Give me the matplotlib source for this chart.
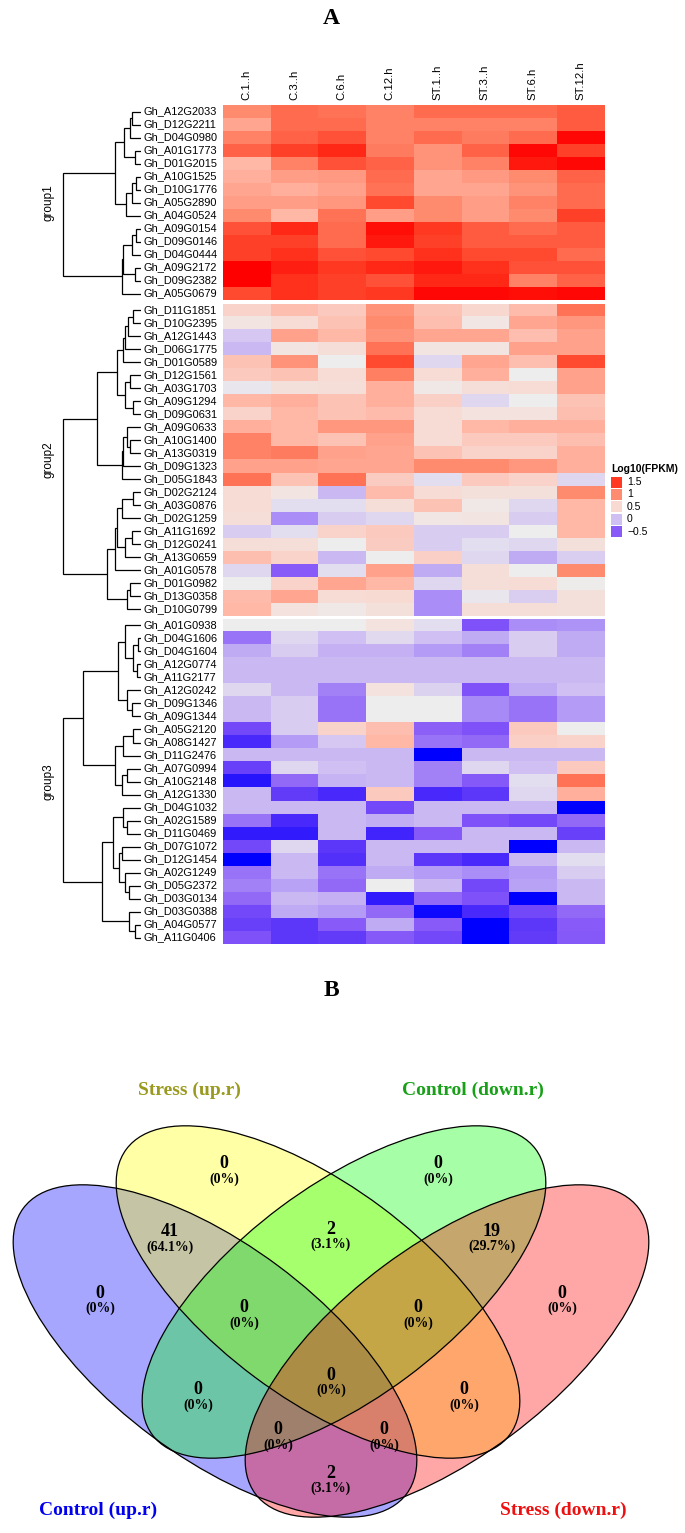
import numpy as np
import matplotlib
matplotlib.use("Agg")
import matplotlib.pyplot as plt
from matplotlib.colors import LinearSegmentedColormap, Normalize
from matplotlib.patches import Ellipse, Rectangle
from matplotlib.transforms import blended_transform_factory

# ---------------- data ----------------
columns = ["C.1..h", "C.3..h", "C.6.h", "C.12.h", "ST.1..h", "ST.3..h", "ST.6.h", "ST.12.h"]

group1_genes = ["Gh_A12G2033", "Gh_D12G2211", "Gh_D04G0980", "Gh_A01G1773", "Gh_D01G2015",
                "Gh_A10G1525", "Gh_D10G1776", "Gh_A05G2890", "Gh_A04G0524", "Gh_A09G0154",
                "Gh_D09G0146", "Gh_D04G0444", "Gh_A09G2172", "Gh_D09G2382", "Gh_A05G0679"]
group1_values = [
    [1.00, 1.20, 1.15, 1.05, 1.20, 1.20, 1.20, 1.30],
    [0.85, 1.20, 1.20, 1.05, 1.05, 1.05, 1.05, 1.30],
    [1.05, 1.25, 1.35, 1.05, 1.20, 1.10, 1.20, 1.80],
    [1.25, 1.45, 1.60, 1.10, 0.95, 1.25, 1.80, 1.45],
    [0.75, 1.05, 1.35, 1.25, 0.95, 1.05, 1.70, 1.80],
    [0.80, 0.90, 0.92, 1.20, 0.85, 0.92, 1.00, 1.25],
    [0.85, 0.80, 0.88, 1.15, 0.85, 0.85, 0.95, 1.20],
    [0.90, 0.90, 0.93, 1.40, 1.00, 0.90, 1.05, 1.20],
    [1.00, 0.75, 1.15, 0.90, 1.00, 0.90, 1.00, 1.45],
    [1.35, 1.60, 1.20, 1.75, 1.50, 1.30, 1.20, 1.30],
    [1.45, 1.45, 1.20, 1.70, 1.45, 1.30, 1.30, 1.30],
    [1.45, 1.55, 1.35, 1.40, 1.55, 1.40, 1.40, 1.20],
    [1.85, 1.65, 1.50, 1.60, 1.70, 1.55, 1.35, 1.35],
    [1.85, 1.55, 1.45, 1.35, 1.60, 1.60, 1.05, 1.25],
    [1.40, 1.55, 1.45, 1.50, 1.80, 1.80, 1.75, 1.80],
]

group2_genes = ["Gh_D11G1851", "Gh_D10G2395", "Gh_A12G1443", "Gh_D06G1775", "Gh_D01G0589",
                "Gh_D12G1561", "Gh_A03G1703", "Gh_A09G1294", "Gh_D09G0631", "Gh_A09G0633",
                "Gh_A10G1400", "Gh_A13G0319", "Gh_D09G1323", "Gh_D05G1843", "Gh_D02G2124",
                "Gh_A03G0876", "Gh_D02G1259", "Gh_A11G1692", "Gh_D12G0241", "Gh_A13G0659",
                "Gh_A01G0578", "Gh_D01G0982", "Gh_D13G0358", "Gh_D10G0799"]
group2_values = [
    [0.55, 0.70, 0.62, 0.95, 0.68, 0.52, 0.72, 1.15],
    [0.40, 0.48, 0.68, 1.00, 0.70, 0.38, 0.85, 0.93],
    [0.05, 0.88, 0.75, 0.95, 0.85, 0.85, 0.70, 0.88],
    [-0.05, 0.40, 0.45, 1.15, 0.40, 0.40, 0.88, 0.88],
    [0.68, 0.95, 0.30, 1.40, 0.15, 0.85, 0.70, 1.40],
    [0.62, 0.68, 0.47, 1.08, 0.48, 0.80, 0.30, 0.88],
    [0.25, 0.43, 0.45, 0.80, 0.35, 0.45, 0.48, 0.88],
    [0.75, 0.80, 0.68, 0.80, 0.58, 0.15, 0.30, 0.68],
    [0.55, 0.75, 0.68, 0.72, 0.47, 0.42, 0.42, 0.70],
    [0.80, 0.75, 0.93, 0.93, 0.47, 0.75, 0.80, 0.80],
    [1.05, 0.75, 0.68, 0.88, 0.48, 0.62, 0.62, 0.70],
    [1.05, 1.10, 0.88, 0.85, 0.68, 0.55, 0.55, 0.80],
    [0.88, 0.88, 0.85, 0.85, 1.00, 1.00, 0.93, 0.80],
    [1.15, 0.68, 1.15, 0.60, 0.20, 0.62, 0.55, 0.15],
    [0.47, 0.40, -0.05, 0.72, 0.48, 0.43, 0.43, 1.00],
    [0.47, 0.20, 0.20, 0.45, 0.68, 0.35, 0.15, 0.75],
    [0.45, -0.30, 0.08, 0.15, 0.37, 0.40, 0.08, 0.75],
    [0.08, 0.20, 0.55, 0.62, 0.08, 0.08, 0.30, 0.75],
    [0.45, 0.45, 0.30, 0.60, 0.08, 0.20, 0.15, 0.43],
    [0.70, 0.55, -0.05, 0.30, 0.58, 0.15, -0.15, 0.10],
    [0.15, -0.50, 0.20, 0.88, -0.15, 0.45, 0.30, 1.00],
    [0.30, 0.55, 0.85, 0.75, 0.15, 0.45, 0.47, 0.32],
    [0.72, 0.85, 0.48, 0.50, -0.30, 0.25, 0.10, 0.43],
    [0.75, 0.42, 0.35, 0.43, -0.30, 0.45, 0.45, 0.43],
]

group3_genes = ["Gh_A01G0938", "Gh_D04G1606", "Gh_D04G1604", "Gh_A12G0774", "Gh_A11G2177",
                "Gh_A12G0242", "Gh_D09G1346", "Gh_A09G1344", "Gh_A05G2120", "Gh_A08G1427",
                "Gh_D11G2476", "Gh_A07G0994", "Gh_A10G2148", "Gh_A12G1330", "Gh_D04G1032",
                "Gh_A02G1589", "Gh_D11G0469", "Gh_D07G1072", "Gh_D12G1454", "Gh_A02G1249",
                "Gh_D05G2372", "Gh_D03G0134", "Gh_D03G0388", "Gh_A04G0577", "Gh_A11G0406"]
group3_values = [
    [0.30, 0.30, 0.30, 0.42, 0.20, -0.55, -0.30, -0.28],
    [-0.40, 0.15, 0.00, 0.18, 0.00, -0.15, 0.08, -0.15],
    [-0.15, 0.08, -0.10, -0.10, -0.25, -0.35, 0.08, -0.15],
    [-0.05, -0.05, -0.05, -0.05, -0.05, -0.05, -0.05, -0.05],
    [-0.05, -0.05, -0.05, -0.05, -0.05, -0.05, -0.05, -0.05],
    [0.15, -0.05, -0.35, 0.42, 0.12, -0.55, -0.15, 0.00],
    [-0.05, 0.08, -0.40, 0.30, 0.30, -0.32, -0.40, -0.25],
    [-0.05, 0.08, -0.40, 0.30, 0.30, -0.32, -0.40, -0.25],
    [-0.60, 0.08, 0.55, 0.70, -0.48, -0.55, 0.62, 0.30],
    [-0.78, -0.25, 0.05, 0.75, -0.40, -0.45, 0.58, 0.55],
    [-0.05, -0.05, -0.05, -0.05, -1.00, -0.05, -0.05, -0.05],
    [-0.65, 0.15, 0.00, -0.05, -0.35, 0.15, 0.00, 0.62],
    [-0.88, -0.45, -0.08, -0.05, -0.35, -0.52, 0.20, 1.15],
    [-0.05, -0.68, -0.78, 0.62, -0.78, -0.70, 0.15, 0.80],
    [-0.05, -0.05, -0.05, -0.60, -0.05, -0.05, -0.05, -1.00],
    [-0.40, -0.78, -0.05, -0.12, -0.05, -0.55, -0.60, -0.45],
    [-0.85, -0.85, -0.05, -0.80, -0.52, -0.05, -0.05, -0.65],
    [-0.60, 0.15, -0.70, -0.05, -0.05, -0.05, -1.00, -0.05],
    [-1.00, -0.05, -0.75, -0.05, -0.70, -0.78, -0.05, 0.20],
    [-0.40, -0.05, -0.40, -0.15, -0.25, -0.30, -0.25, 0.08],
    [-0.35, -0.20, -0.45, 0.30, -0.05, -0.60, -0.20, -0.05],
    [-0.45, -0.05, -0.10, -0.85, -0.45, -0.55, -1.00, -0.05],
    [-0.60, -0.15, -0.25, -0.45, -0.95, -0.78, -0.60, -0.45],
    [-0.65, -0.70, -0.50, -0.15, -0.50, -1.00, -0.70, -0.50],
    [-0.55, -0.70, -0.68, -0.52, -0.60, -1.00, -0.68, -0.52],
]

group_names = ["group1", "group2", "group3"]

# dendrogram merge trees: (left, right, merge height); leaves = row index within group
g1_top = ((((0, 1, 9), 2, 11), (3, 4, 6), 17), (((5, 6, 5), 7, 9), 8, 15), 26)
g1_bot = ((((9, 10, 5), 11, 9), (12, 13, 6), 18), 14, 19)
group1_tree = (g1_top, g1_bot, 78)

g2_a = ((((0, 1, 8), 2, 13), 3, 16), 4, 18)
g2_b = ((5, 6, 11), (7, 8, 8), 16)
g2_c = ((((10, 11, 11), 9, 14), 12, 18), 13, 19)
g2_d = ((((14, 15, 8), 16, 19), ((17, 18, 9), 19, 16), 24), 20, 26)
g2_e = ((21, 22, 11), 23, 14)
group2_tree = (((g2_a, g2_b, 24), g2_c, 44), (g2_d, g2_e, 34), 78)

g3_a = ((0, ((1, 2, 3), (3, 4, 4), 8), 16), ((6, 7, 9), 5, 14), 23)
g3_b = (((8, 9, 8), 10, 18), ((11, 12, 14), 13, 19), 26)
g3_c = (((15, 16, 14), 14, 18), ((17, 18, 19), (19, (20, 21, 12), 16), 22), 28)
g3_d = (22, (23, 24, 6), 12)
group3_tree = ((g3_a, g3_b, 58), (g3_c, g3_d, 39), 78)
group_trees = [group1_tree, group2_tree, group3_tree]

legend_values = [1.5, 1.0, 0.5, 0.0, -0.5]
legend_labels = ["1.5", "1", "0.5", "0", "\u22120.5"]

# Venn data
venn_sets = ["Control (up.r)", "Stress (up.r)", "Control (down.r)", "Stress (down.r)"]
venn_regions = ["A", "B", "C", "D", "AB", "BC", "CD", "ABC", "BCD", "ABCD", "AC", "BD", "ACD", "ABD", "AD"]
venn_counts = [0, 0, 0, 0, 41, 2, 19, 0, 0, 0, 0, 0, 0, 0, 2]

# ---------------- styling / layout ----------------
W, H = 685, 1533
fig = plt.figure(figsize=(W / 100, H / 100), dpi=100)

SANS = ["Liberation Sans", "DejaVu Sans"]
SERIF = ["Liberation Serif", "DejaVu Serif"]


def ax_px(x0, y0, x1, y1):
    return fig.add_axes([x0 / W, 1 - y1 / H, (x1 - x0) / W, (y1 - y0) / H])


anchors = [(-1.0, "#0000FF"), (-0.75, "#5530FA"), (-0.5, "#8A5CF8"), (-0.25, "#B49CF6"),
           (0.0, "#D0C0F2"), (0.3, "#EEEEEE"), (0.5, "#F8DAD2"), (0.75, "#FFB8A8"),
           (1.0, "#FF8C70"), (1.25, "#FF6448"), (1.5, "#FF3A22"), (1.85, "#FF0000")]
vmin, vmax = anchors[0][0], anchors[-1][0]
cmap = LinearSegmentedColormap.from_list(
    "fpkm", [((v - vmin) / (vmax - vmin), c) for v, c in anchors])
norm = Normalize(vmin=vmin, vmax=vmax)

HM_X0, HM_X1 = 222.7, 604.0
ROW_H = 13.0
group_tops = [105.0, 303.5, 619.0]
LEAF_X = 141.0
DEND_X0 = 58.0

all_genes = [group1_genes, group2_genes, group3_genes]
all_vals = [group1_values, group2_values, group3_values]


def draw_tree(ax, node, yc):
    if isinstance(node, int):
        return yc[node], 0.0
    l, r, h = node
    yl, hl = draw_tree(ax, l, yc)
    yr, hr = draw_tree(ax, r, yc)
    ax.plot([hl, h, h, hr], [yl, yl, yr, yr], color="black", lw=0.9,
            solid_joinstyle="miter", solid_capstyle="butt")
    return (yl + yr) / 2, h


for gi in range(3):
    genes = all_genes[gi]
    vals = np.array(all_vals[gi])
    n = len(genes)
    top = group_tops[gi]
    bot = top + n * ROW_H
    ax = ax_px(HM_X0, top, HM_X1, bot)
    ax.imshow(vals, cmap=cmap, norm=norm, aspect="auto", interpolation="nearest",
              extent=(0, len(columns), n, 0))
    ax.set_xlim(0, len(columns))
    ax.set_ylim(n, 0)
    ax.axis("off")
    tr = blended_transform_factory(fig.transFigure, ax.transData)
    for i, g in enumerate(genes):
        ax.text(143.3 / W, i + 0.5, g, transform=tr, ha="left", va="center",
                fontsize=7.9, family=SANS)
    ax.text(48 / W, n / 2, group_names[gi], transform=tr, rotation=90,
            ha="center", va="center", fontsize=8.5, family=SANS)
    if gi == 0:
        for j, c in enumerate(columns):
            ax.text(j + 0.5, -0.35, c, rotation=90, ha="center", va="bottom",
                    fontsize=8.2, family=SANS)
    # dendrogram
    dax = ax_px(DEND_X0, top, LEAF_X, bot)
    dax.set_xlim(LEAF_X - DEND_X0, 0)
    dax.set_ylim(n, 0)
    dax.axis("off")
    yc = [i + 0.5 for i in range(n)]
    draw_tree(dax, group_trees[gi], yc)

# legend
lax = ax_px(606, 455, 685, 545)
lax.set_xlim(606, 685)
lax.set_ylim(545, 455)
lax.axis("off")
lax.text(611, 469, "Log10(FPKM)", ha="left", va="center", fontsize=7.5,
         fontweight="bold", family=SANS)
for k, (v, lab) in enumerate(zip(legend_values, legend_labels)):
    yk = 482 + k * 12.4
    lax.add_patch(Rectangle((611, yk - 5.5), 11, 11, facecolor=cmap(norm(v)), edgecolor="none"))
    lax.text(627, yk, lab, ha="left", va="center", fontsize=7.5, family=SANS)

# titles
fig.text(331.5 / W, 1 - 18 / H, "A", ha="center", va="center", fontsize=17,
         fontweight="bold", family=SERIF)
fig.text(331.5 / W, 1 - 990 / H, "B", ha="center", va="center", fontsize=17,
         fontweight="bold", family=SERIF)

# ---------------- Venn ----------------
vax = ax_px(0, 1000, W, H)
vax.set_xlim(0, W)
vax.set_ylim(H, 1000)
vax.axis("off")

ell_geom = {"A": (215, 1351, 36.7), "B": (318, 1292, 36.7),
            "C": (344, 1292, -36.7), "D": (447, 1351, -36.7)}
ell_size = (478, 212)
ell_color = {"A": (0, 0, 1), "B": (1, 1, 0), "C": (0, 1, 0), "D": (1, 0, 0)}
for key in ["A", "B", "C", "D"]:
    cx, cy, ang = ell_geom[key]
    vax.add_patch(Ellipse((cx, cy), ell_size[0], ell_size[1], angle=ang,
                          facecolor=(*ell_color[key], 0.35), edgecolor="none"))
for key in ["A", "B", "C", "D"]:
    cx, cy, ang = ell_geom[key]
    vax.add_patch(Ellipse((cx, cy), ell_size[0], ell_size[1], angle=ang,
                          facecolor="none", edgecolor="black", lw=0.9))

region_pos = {"A": (100, 1293), "B": (224, 1164), "C": (438, 1164), "D": (562, 1293),
              "AB": (170, 1232), "BC": (331, 1229), "CD": (492, 1231),
              "ABC": (244, 1308), "BCD": (418, 1308), "ABCD": (331, 1375),
              "AC": (198, 1390), "BD": (464, 1390), "ACD": (278, 1430),
              "ABD": (384, 1430), "AD": (331, 1473)}
total = sum(venn_counts)
for reg, cnt in zip(venn_regions, venn_counts):
    x, y = region_pos[reg]
    pct = cnt / total * 100
    ptxt = "(0%)" if cnt == 0 else "(%.1f%%)" % pct
    vax.text(x, y, str(cnt), ha="center", va="center", fontsize=13,
             fontweight="bold", family=SERIF)
    vax.text(x, y + 15, ptxt, ha="center", va="center", fontsize=10,
             fontweight="bold", family=SERIF)

set_label_pos = [(98, 1510), (189, 1090), (473, 1090), (563, 1510)]
set_label_col = ["#0000EE", "#9A9A20", "#18A018", "#EE1010"]
for name, (x, y), col in zip(venn_sets, set_label_pos, set_label_col):
    vax.text(x, y, name, ha="center", va="center", fontsize=14, fontweight="bold",
             family=SERIF, color=col)

fig.savefig("out.png", dpi=100)
